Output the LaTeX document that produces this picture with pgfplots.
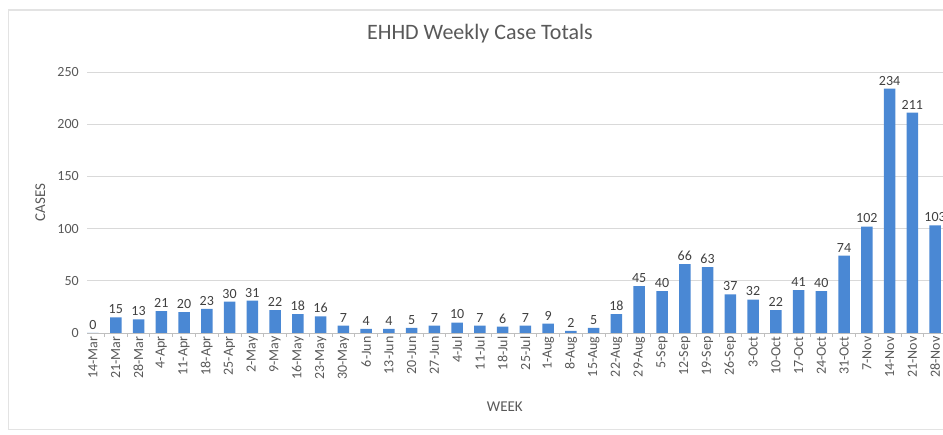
\documentclass[border=0pt]{standalone}
\usepackage{fontspec}
\setmainfont{Carlito}
\usepackage{pgfplots}
\pgfplotsset{compat=1.18}

\definecolor{barblue}{HTML}{4A88D4}
\definecolor{textgray}{HTML}{595959}
\definecolor{valgray}{HTML}{404040}
\definecolor{gridgray}{HTML}{D9D9D9}
\definecolor{axisgray}{HTML}{BFBFBF}
\definecolor{framegray}{HTML}{E3E3E3}

\begin{document}
\begin{tikzpicture}[x=1pt,y=1pt]
\useasboundingbox (0,0) rectangle (943,434);
\fill[white] (0,0) rectangle (943,434);
\draw[framegray, line width=1.2pt] (8.5,4.5) rectangle (1000,424);
\begin{axis}[
  at={(87.3pt,101pt)}, anchor=south west,
  scale only axis, width=859.2pt, height=261pt,
  ymin=0, ymax=250, ytick={0,50,...,250},
  xmin=-0.25, xmax=37.5,
  ybar, bar width=11.5pt,
  axis lines*=left,
  y axis line style={draw=none},
  x axis line style={draw=axisgray, line width=0.8pt},
  ymajorgrids, grid style={gridgray, line width=0.8pt},
  tick align=outside,
  major tick length=0pt, minor tick length=4pt,
  minor xtick={0.5,1.5,...,36.5},
  every minor tick/.style={axisgray, line width=0.8pt},
  xtick={0,...,37},
  xticklabels={14-Mar,21-Mar,28-Mar,4-Apr,11-Apr,18-Apr,25-Apr,2-May,9-May,16-May,23-May,30-May,6-Jun,13-Jun,20-Jun,27-Jun,4-Jul,11-Jul,18-Jul,25-Jul,1-Aug,8-Aug,15-Aug,22-Aug,29-Aug,5-Sep,12-Sep,19-Sep,26-Sep,3-Oct,10-Oct,17-Oct,24-Oct,31-Oct,7-Nov,14-Nov,21-Nov,28-Nov},
  x tick label style={rotate=90, anchor=east, font=\fontsize{14}{14}\selectfont, text=textgray},
  y tick label style={font=\fontsize{14}{14}\selectfont, text=textgray, xshift=-5pt},
  /pgf/number format/assume math mode=true,
  title={EHHD Weekly Case Totals},
  title style={at={(axis description cs:0.457,1)}, anchor=center, yshift=32pt,
    font=\fontsize{22}{22}\selectfont, text=textgray},
  xlabel={WEEK},
  every axis x label/.style={at={(axis description cs:0.486,0)}, anchor=center, yshift=-74pt,
    font=\fontsize{15}{15}\selectfont, text=textgray},
  ylabel={CASES},
  every axis y label/.style={at={(axis description cs:-0.0547,0.5)}, rotate=90, anchor=center,
    font=\fontsize{15}{15}\selectfont, text=textgray},
  nodes near coords,
  every node near coord/.append style={font=\fontsize{14}{14}\selectfont, text=valgray},
  clip=false,
]
\addplot[fill=barblue, draw=none] coordinates {
  (0,0) (1,15) (2,13) (3,21) (4,20) (5,23) (6,30) (7,31) (8,22) (9,18)
  (10,16) (11,7) (12,4) (13,4) (14,5) (15,7) (16,10) (17,7) (18,6) (19,7)
  (20,9) (21,2) (22,5) (23,18) (24,45) (25,40) (26,66) (27,63) (28,37) (29,32)
  (30,22) (31,41) (32,40) (33,74) (34,102) (35,234) (36,211) (37,103)
};
\end{axis}
\end{tikzpicture}
\end{document}
